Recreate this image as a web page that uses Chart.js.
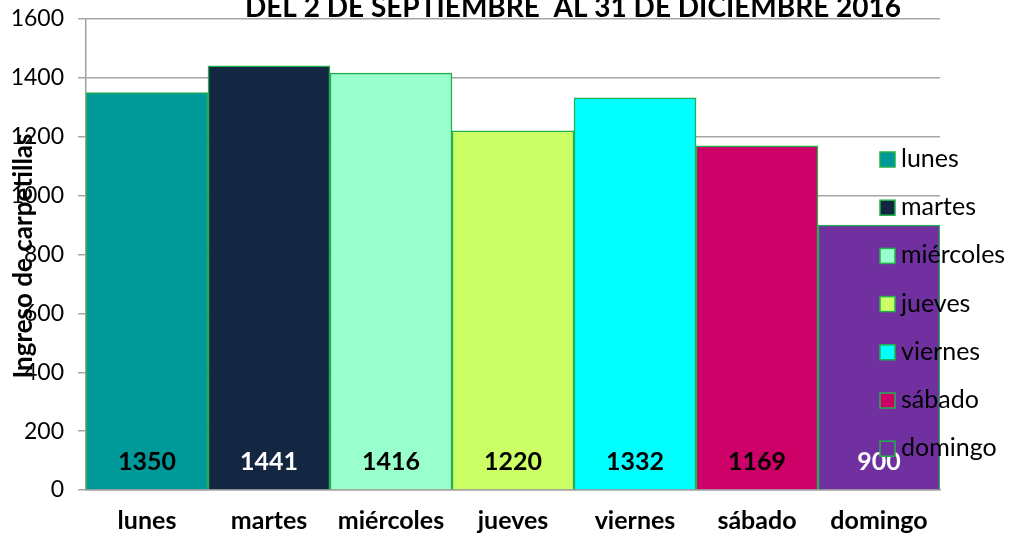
<!DOCTYPE html>
<html>
<head>
<meta charset="utf-8">
<script src="https://cdn.jsdelivr.net/npm/chart.js@4"></script>
<style>
  html, body { margin: 0; padding: 0; background: #fff; }
  #wrap { width: 1011px; height: 544px; }
</style>
</head>
<body>
<div id="wrap"><canvas id="chart" width="1011" height="544"></canvas></div>
<script>
/* ── Datos ── */
const dias = ['lunes', 'martes', 'miércoles', 'jueves', 'viernes', 'sábado', 'domingo'];
const ingresos = [1350, 1441, 1416, 1220, 1332, 1169, 900];
const colores = ['#009999', '#132743', '#99FFCC', '#CCFF66', '#00FFFF', '#CC0066', '#7030A0'];
const coloresEtiqueta = ['#000', '#fff', '#000', '#000', '#000', '#000', '#fff'];
const ticksY = [0, 200, 400, 600, 800, 1000, 1200, 1400, 1600];
const titulo = 'DEL 2 DE SEPTIEMBRE  AL 31 DE DICIEMBRE 2016';
const tituloY = 'Ingreso de carpetillas';

const FONT = 'Lato, "Open Sans", sans-serif';
const BORDE = '#22B04E';

/* ── Textos y leyenda dibujados a mano (se superponen al área) ── */
const extras = {
  id: 'extras',
  afterDatasetsDraw(chart) {
    const { ctx, chartArea } = chart;
    const meta = chart.getDatasetMeta(0);
    ctx.save();

    // etiquetas de valor al pie de cada barra
    ctx.font = 'bold 25px ' + FONT;
    ctx.textAlign = 'center';
    ctx.textBaseline = 'middle';
    meta.data.forEach((bar, i) => {
      ctx.fillStyle = coloresEtiqueta[i];
      ctx.fillText(String(ingresos[i]), bar.x, chartArea.bottom - 28);
    });

    // título
    ctx.fillStyle = '#000';
    ctx.font = 'bold 28px ' + FONT;
    ctx.textBaseline = 'alphabetic';
    ctx.fillText(titulo, 573, 17);

    // título eje Y
    ctx.save();
    ctx.translate(24, 256);
    ctx.rotate(-Math.PI / 2);
    ctx.font = 'bold 26px ' + FONT;
    ctx.textBaseline = 'middle';
    ctx.fillText(tituloY, 0, 0);
    ctx.restore();

    // leyenda
    ctx.font = '25px ' + FONT;
    ctx.textAlign = 'left';
    ctx.textBaseline = 'middle';
    dias.forEach((d, i) => {
      const y = 159 + i * 48.2;
      ctx.fillStyle = colores[i];
      ctx.fillRect(880, y - 7, 15, 15);
      ctx.strokeStyle = BORDE;
      ctx.lineWidth = 1.5;
      ctx.strokeRect(880, y - 7, 15, 15);
      ctx.fillStyle = '#000';
      ctx.fillText(d, 901, y);
    });

    ctx.restore();
  }
};

new Chart(document.getElementById('chart'), {
  type: 'bar',
  data: {
    labels: dias,
    datasets: [{
      data: ingresos,
      backgroundColor: colores,
      borderColor: BORDE,
      borderWidth: 1.5,
      categoryPercentage: 1,
      barPercentage: 1
    }]
  },
  options: {
    responsive: false,
    animation: false,
    devicePixelRatio: 1,
    layout: { padding: { top: 19, right: 71, left: 0, bottom: 0 } },
    plugins: {
      legend: { display: false },
      tooltip: { enabled: false }
    },
    scales: {
      x: {
        grid: { display: false, drawTicks: false },
        border: { color: '#a0a0a0', width: 1.5 },
        ticks: { color: '#000', font: { family: FONT, size: 25, weight: 'bold' }, padding: 16, maxRotation: 0 },
        afterFit: s => { s.height = 54; s.paddingLeft = 0; s.paddingRight = 0; }
      },
      y: {
        min: 0,
        max: 1600,
        afterBuildTicks: s => { s.ticks = ticksY.map(v => ({ value: v })); },
        grid: { color: '#a6a6a6', lineWidth: 1.5, tickLength: 8 },
        border: { color: '#a0a0a0', width: 1.5 },
        ticks: { color: '#000', font: { family: FONT, size: 23 }, padding: 14, callback: v => String(v) },
        afterFit: s => { s.width = 86; s.paddingTop = 0; s.paddingBottom = 0; }
      }
    }
  },
  plugins: [extras]
});
</script>
</body>
</html>
